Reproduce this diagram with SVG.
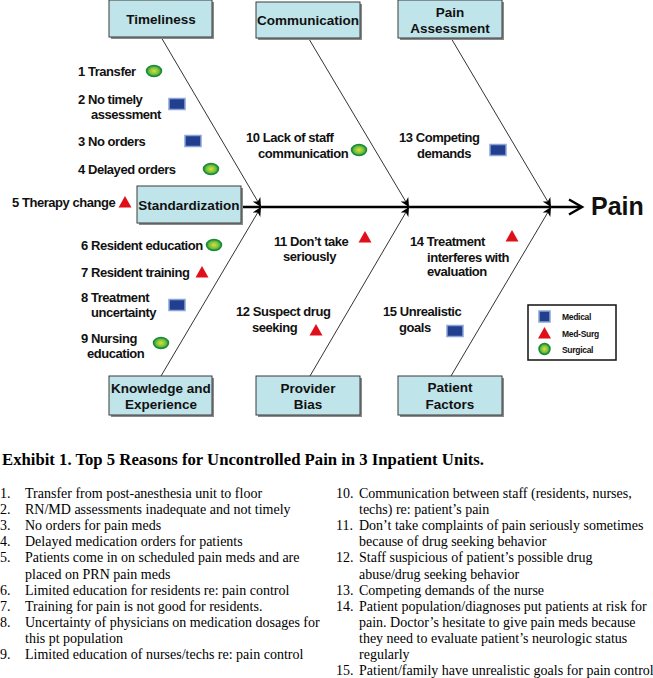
<svg xmlns="http://www.w3.org/2000/svg" width="653" height="678" viewBox="0 0 653 678">
<defs>
<marker id="ah" viewBox="0 0 10 10" refX="10" refY="5" markerWidth="9" markerHeight="9" markerUnits="userSpaceOnUse" orient="auto">
<path d="M0,0 L10,5 L0,10 L3,5 Z" fill="#000"/>
</marker>
<radialGradient id="g" cx="0.5" cy="0.5" r="0.5">
<stop offset="0" stop-color="#d8e040"/>
<stop offset="0.6" stop-color="#7cc23a"/>
<stop offset="1" stop-color="#1e9a3a"/>
</radialGradient>
<g id="sq"><rect x="-8" y="-5.5" width="16" height="11" fill="#213f8e" stroke="#8aa4d6" stroke-width="1.5"/></g>
<g id="ci"><ellipse cx="0" cy="0" rx="7.5" ry="5.5" fill="url(#g)" stroke="#1a8a3a" stroke-width="1.5"/></g>
<g id="tr"><polygon points="0,-6 6.5,5.5 -6.5,5.5" fill="#e0101a"/></g>
</defs>
<style>
.box{fill:#bfe4ea;stroke:#3a3a3a;stroke-width:1}
.sh{fill:#8a8a8a}
.bt{font-family:"Liberation Sans",Arial,sans-serif;font-weight:bold;font-size:13.5px;fill:#111;text-anchor:middle}
.lb{font-family:"Liberation Sans",Arial,sans-serif;font-weight:bold;font-size:13px;fill:#111;letter-spacing:-0.45px}
.lg{font-family:"Liberation Sans",Arial,sans-serif;font-weight:bold;font-size:8.5px;fill:#111;letter-spacing:-0.3px}
.cap{font-family:"Liberation Serif","Times New Roman",serif;font-weight:bold;font-size:16.7px;fill:#000}
.li{font-family:"Liberation Serif","Times New Roman",serif;font-size:14px;fill:#000}
.bone{stroke:#333;stroke-width:1;fill:none}
</style>
<rect width="653" height="678" fill="#fff"/>

<g id="connectors">
<line x1="241" y1="207" x2="580" y2="207" stroke="#000" stroke-width="2.5"/>
<polyline points="569,199.5 582,207 569,214.5" fill="none" stroke="#000" stroke-width="2.5"/>
<line class="bone" x1="161" y1="37" x2="261" y2="207" marker-end="url(#ah)"/>
<line class="bone" x1="309" y1="39" x2="409" y2="207" marker-end="url(#ah)"/>
<line class="bone" x1="451" y1="38" x2="551" y2="207" marker-end="url(#ah)"/>
<line class="bone" x1="161" y1="376" x2="261" y2="207" marker-end="url(#ah)"/>
<line class="bone" x1="310" y1="376" x2="409" y2="207" marker-end="url(#ah)"/>
<line class="bone" x1="451" y1="376" x2="551" y2="207" marker-end="url(#ah)"/>
</g>

<g id="timeliness">
<rect class="sh" x="111" y="2" width="103" height="37"/>
<rect class="box" x="109" y="0" width="103" height="37"/>
<text class="bt" x="161" y="24">Timeliness</text>
</g>
<g id="communication">
<rect class="sh" x="258" y="4" width="104" height="36"/>
<rect class="box" x="256" y="2" width="104" height="36"/>
<text class="bt" x="308" y="25">Communication</text>
</g>
<g id="pain-assessment">
<rect class="sh" x="400" y="2" width="104" height="38"/>
<rect class="box" x="398" y="0" width="104" height="38"/>
<text class="bt" x="450" y="16.5">Pain</text>
<text class="bt" x="450" y="33">Assessment</text>
</g>
<g id="standardization">
<rect class="sh" x="139" y="188" width="104" height="37"/>
<rect class="box" x="137" y="186" width="104" height="37"/>
<text class="bt" x="189" y="210">Standardization</text>
</g>
<g id="knowledge">
<rect class="sh" x="111" y="378" width="103" height="39"/>
<rect class="box" x="109" y="376" width="103" height="39"/>
<text class="bt" x="161" y="393">Knowledge and</text>
<text class="bt" x="161" y="409">Experience</text>
</g>
<g id="provider-bias">
<rect class="sh" x="258" y="378" width="104" height="39"/>
<rect class="box" x="256" y="376" width="104" height="39"/>
<text class="bt" x="308" y="393">Provider</text>
<text class="bt" x="308" y="409">Bias</text>
</g>
<g id="patient-factors">
<rect class="sh" x="400" y="378" width="104" height="39"/>
<rect class="box" x="398" y="376" width="104" height="39"/>
<text class="bt" x="450" y="392">Patient</text>
<text class="bt" x="450" y="409">Factors</text>
</g>
<g id="pain">
<text x="591" y="215" font-family="Liberation Sans,Arial,sans-serif" font-weight="bold" font-size="25" fill="#111">Pain</text>
</g>

<g id="causes">
<text class="lb" x="78" y="75.5">1 Transfer</text><use href="#ci" x="154" y="71"/>
<text class="lb" x="78" y="103.5">2 No timely</text><text class="lb" x="91" y="118.5">assessment</text><use href="#sq" x="177" y="104"/>
<text class="lb" x="78" y="145.5">3 No orders</text><use href="#sq" x="193" y="141"/>
<text class="lb" x="78" y="173.5">4 Delayed orders</text><use href="#ci" x="211" y="169"/>
<text class="lb" x="12" y="206.5">5 Therapy change</text><use href="#tr" x="125" y="202"/>
<text class="lb" x="81" y="249.5">6 Resident education</text><use href="#ci" x="214" y="245"/>
<text class="lb" x="81" y="276.5">7 Resident training</text><use href="#tr" x="202" y="272"/>
<text class="lb" x="81" y="301.5">8 Treatment</text><text class="lb" x="91" y="316.5">uncertainty</text><use href="#sq" x="177" y="305"/>
<text class="lb" x="81" y="342.5">9 Nursing</text><text class="lb" x="87" y="357.5">education</text><use href="#ci" x="161" y="343"/>
<text class="lb" x="246" y="141.5">10 Lack of staff</text><text class="lb" x="258" y="157.5">communication</text><use href="#ci" x="359" y="150"/>
<text class="lb" x="274" y="245.5">11 Don’t take</text><text class="lb" x="283" y="260.5">seriously</text><use href="#tr" x="365" y="237"/>
<text class="lb" x="236" y="315.5">12 Suspect drug</text><text class="lb" x="252" y="331.5">seeking</text><use href="#tr" x="316" y="330"/>
<text class="lb" x="399" y="141.5">13 Competing</text><text class="lb" x="417" y="157.5">demands</text><use href="#sq" x="498" y="150"/>
<text class="lb" x="410" y="245.5">14 Treatment</text><text class="lb" x="427" y="261.5">interferes with</text><text class="lb" x="427" y="275.5">evaluation</text><use href="#tr" x="512" y="236"/>
<text class="lb" x="383" y="315.5">15 Unrealistic</text><text class="lb" x="399" y="331.5">goals</text><use href="#sq" x="455" y="331"/>
</g>

<g id="legend">
<rect x="528" y="305" width="88" height="55" fill="#fff" stroke="#111" stroke-width="1.5"/>
<rect x="539" y="311" width="11" height="11" fill="#213f8e" stroke="#8aa4d6" stroke-width="1.5"/>
<text class="lg" x="562" y="319.5">Medical</text>
<polygon points="544.5,327 551,338.5 538,338.5" fill="#e0101a"/>
<text class="lg" x="562" y="336.5">Med-Surg</text>
<circle cx="544.5" cy="349" r="5.5" fill="url(#g)" stroke="#1a8a3a" stroke-width="1.5"/>
<text class="lg" x="562" y="352.5">Surgical</text>
</g>

<g id="caption">
<text class="cap" x="2" y="465">Exhibit 1. Top 5 Reasons for Uncontrolled Pain in 3 Inpatient Units.</text>
<g class="li">
<text x="0" y="498">1.</text><text x="25" y="498">Transfer from post-anesthesia unit to floor</text>
<text x="0" y="514.1">2.</text><text x="25" y="514.1">RN/MD assessments inadequate and not timely</text>
<text x="0" y="530.2">3.</text><text x="25" y="530.2">No orders for pain meds</text>
<text x="0" y="546.3">4.</text><text x="25" y="546.3">Delayed medication orders for patients</text>
<text x="0" y="562.4">5.</text><text x="25" y="562.4">Patients come in on scheduled pain meds and are</text>
<text x="25" y="578.5">placed on PRN pain meds</text>
<text x="0" y="594.6">6.</text><text x="25" y="594.6">Limited education for residents re: pain control</text>
<text x="0" y="610.7">7.</text><text x="25" y="610.7">Training for pain is not good for residents.</text>
<text x="0" y="626.8">8.</text><text x="25" y="626.8">Uncertainty of physicians on medication dosages for</text>
<text x="25" y="642.9">this pt population</text>
<text x="0" y="659">9.</text><text x="25" y="659">Limited education of nurses/techs re: pain control</text>

<text x="336" y="498">10.</text><text x="359" y="498">Communication between staff (residents, nurses,</text>
<text x="359" y="514.1">techs) re: patient’s pain</text>
<text x="336" y="530.2">11.</text><text x="359" y="530.2">Don’t take complaints of pain seriously sometimes</text>
<text x="359" y="546.3">because of drug seeking behavior</text>
<text x="336" y="562.4">12.</text><text x="359" y="562.4">Staff suspicious of patient’s possible drug</text>
<text x="359" y="578.5">abuse/drug seeking behavior</text>
<text x="336" y="594.6">13.</text><text x="359" y="594.6">Competing demands of the nurse</text>
<text x="336" y="610.7">14.</text><text x="359" y="610.7">Patient population/diagnoses put patients at risk for</text>
<text x="359" y="626.8">pain.  Doctor’s hesitate to give pain meds because</text>
<text x="359" y="642.9">they need to evaluate patient’s neurologic status</text>
<text x="359" y="659">regularly</text>
<text x="336" y="675.1">15.</text><text x="359" y="675.1">Patient/family have unrealistic goals for pain control</text>
</g>
</g>
</svg>
